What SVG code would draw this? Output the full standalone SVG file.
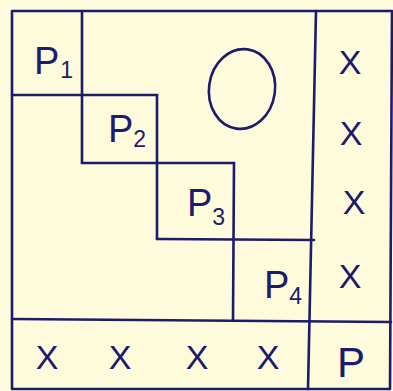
<svg xmlns="http://www.w3.org/2000/svg" width="393" height="391" viewBox="0 0 393 391">
<style>
.ln{fill:none;stroke:#1d1b6c;stroke-width:2.6;stroke-linecap:round;stroke-linejoin:round}
.t{font-family:"Liberation Sans",Arial,sans-serif;fill:#1d1b6c}
.p{font-size:38px}
.s{font-size:23px}
.x{font-size:34px;text-anchor:middle}
</style>
<rect x="0" y="0" width="393" height="391" fill="#fdfbdc"/>
<g id="connectors">
<path class="ln" d="M12,11 L392,11 L390,389 L12,389 Z"/>
<path class="ln" d="M316,11 L308,389"/>
<path class="ln" d="M12,319 L391,322"/>
</g>
<g id="P1">
<path class="ln" d="M82,11 L82,163"/>
<path class="ln" d="M12,95 L157,95"/>
<text class="t p" x="34" y="74">P<tspan class="s" dx="1" dy="4">1</tspan></text>
</g>
<g id="P2">
<path class="ln" d="M157,95 L157,239"/>
<path class="ln" d="M82,163 L234,163"/>
<text class="t p" x="108" y="142">P<tspan class="s" dx="0" dy="5">2</tspan></text>
</g>
<g id="P3">
<path class="ln" d="M234,163 L233,320"/>
<path class="ln" d="M157,239 L314,240"/>
<text class="t p" x="187" y="216">P<tspan class="s" dx="0" dy="9">3</tspan></text>
</g>
<g id="P4">
<text class="t p" x="264" y="298">P<tspan class="s" dx="0" dy="6">4</tspan></text>
</g>
<g id="O">
<ellipse class="ln" cx="242" cy="89" rx="33" ry="40" transform="rotate(8 242 89)" stroke-width="3"/>
</g>
<g id="P">
<text class="t" x="337" y="377" font-size="42">P</text>
</g>
<g id="right-x">
<text class="t x" x="350" y="74">X</text>
<text class="t x" x="351" y="145">X</text>
<text class="t x" x="354" y="214">X</text>
<text class="t x" x="350" y="288">X</text>
</g>
<g id="bottom-x">
<text class="t x" x="47" y="369">X</text>
<text class="t x" x="120" y="369">X</text>
<text class="t x" x="197" y="369">X</text>
<text class="t x" x="268" y="369">X</text>
</g>
</svg>
